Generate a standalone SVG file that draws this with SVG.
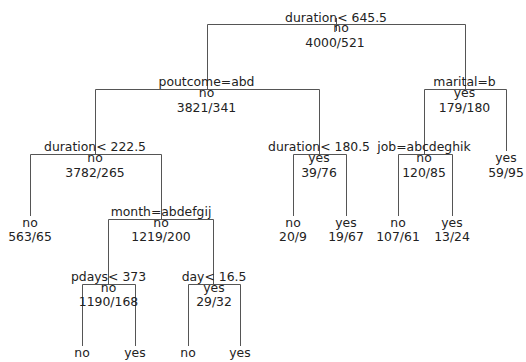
<svg xmlns="http://www.w3.org/2000/svg" width="526" height="362" viewBox="0 0 526 362">
<style>
text{font-family:"DejaVu Sans","Liberation Sans",sans-serif;font-size:12.4px;fill:#222;text-anchor:middle}
.e{stroke:#555;stroke-width:1;fill:none}
</style>
<rect width="526" height="362" fill="#fff"/>
<g id="connectors" class="e">
<path d="M336.5 18V31"/>
<path d="M207.5 89.5V24.5H465.5V89.5"/>
<path d="M95.5 154.5V89.5H319.5V154.5"/>
<path d="M424.5 154.5V89.5H506.5V151"/>
<path d="M30.5 216V154.5H161.5V219.5"/>
<path d="M293.5 216V154.5H346.5V216"/>
<path d="M398.5 216V154.5H452.5V216"/>
<path d="M108.5 284.5V219.5H213.5V284.5"/>
<path d="M82.5 346V284.5H135.5V346"/>
<path d="M188.5 346V284.5H240.5V346"/>
</g>
<g id="n1"><text x="336" y="21.5">duration&lt; 645.5</text><text x="341" y="32">no</text><text x="335" y="46.5">4000/521</text></g>
<g id="n2"><text x="206.5" y="86">poutcome=abd</text><text x="206.5" y="97">no</text><text x="206.5" y="111.5">3821/341</text></g>
<g id="n3"><text x="464.5" y="86">marital=b</text><text x="464.5" y="97">yes</text><text x="464.5" y="111.5">179/180</text></g>
<g id="n4"><text x="95" y="151">duration&lt; 222.5</text><text x="95" y="162">no</text><text x="95" y="176.5">3782/265</text></g>
<g id="n5"><text x="319" y="151">duration&lt; 180.5</text><text x="319" y="162">yes</text><text x="319" y="176.5">39/76</text></g>
<g id="n6"><text x="424" y="151">job=abcdeghik</text><text x="424" y="162">no</text><text x="424" y="176.5">120/85</text></g>
<g id="n7"><text x="506" y="162">yes</text><text x="506" y="176.5">59/95</text></g>
<g id="n8"><text x="30" y="226.5">no</text><text x="30" y="241">563/65</text></g>
<g id="n9"><text x="161" y="216">month=abdefgij</text><text x="161" y="226.5">no</text><text x="161" y="241">1219/200</text></g>
<g id="n10"><text x="293" y="226.5">no</text><text x="293" y="241">20/9</text></g>
<g id="n11"><text x="346" y="226.5">yes</text><text x="346" y="241">19/67</text></g>
<g id="n12"><text x="398" y="226.5">no</text><text x="398" y="241">107/61</text></g>
<g id="n13"><text x="452" y="226.5">yes</text><text x="452" y="241">13/24</text></g>
<g id="n14"><text x="108.5" y="281">pdays&lt; 373</text><text x="108.5" y="291.5">no</text><text x="108.5" y="306">1190/168</text></g>
<g id="n15"><text x="214" y="281">day&lt; 16.5</text><text x="214" y="291.5">yes</text><text x="214" y="306">29/32</text></g>
<g id="n16"><text x="82" y="356.5">no</text></g>
<g id="n17"><text x="135" y="356.5">yes</text></g>
<g id="n18"><text x="188" y="356.5">no</text></g>
<g id="n19"><text x="240" y="356.5">yes</text></g>
</svg>
